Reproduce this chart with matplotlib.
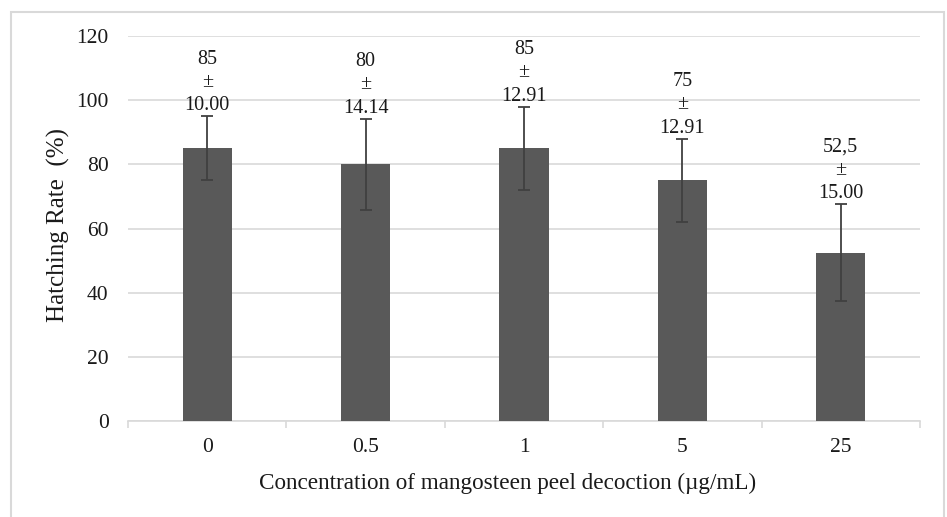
import matplotlib
matplotlib.use("Agg")
import matplotlib.pyplot as plt
from matplotlib.patches import Rectangle
import numpy as np

plt.rcParams["font.family"] = ["Liberation Serif", "DejaVu Serif"]

# data
concentrations = ["0", "0.5", "1", "5", "25"]
hatching_rate = [85, 80, 85, 75, 52.5]
std_dev = [10.00, 14.14, 12.91, 12.91, 15.00]
value_labels = ["85", "80", "85", "75", "52,5"]

fig = plt.figure(figsize=(9.47, 5.17), dpi=100)
ax = fig.add_axes([128 / 947, 1 - 421 / 517, (920 - 128) / 947, (421 - 36) / 517])

x = np.arange(len(concentrations))
ax.bar(x, hatching_rate, width=0.31, color="#595959", zorder=3)
ax.errorbar(x, hatching_rate, yerr=std_dev, fmt="none", ecolor="#404040",
            elinewidth=1.3, capsize=4, capthick=1.3, zorder=4)

for xi, v, s, lab in zip(x, hatching_rate, std_dev, value_labels):
    ax.text(xi, v + s + 0.4, f"{lab}\n±\n{s:.2f}", ha="center", va="bottom",
            fontsize=14.5, color="#1a1a1a", linespacing=1.3, zorder=5)

ax.set_xlim(-0.5, len(concentrations) - 0.5)
ax.set_ylim(0, 120)
ax.set_yticks(np.arange(0, 121, 20))
ax.set_xticks(x)
ax.set_xticklabels(concentrations)
ax.set_xticks(np.arange(-0.5, len(concentrations), 1), minor=True)
ax.tick_params(axis="x", which="major", length=0, labelsize=15.5, pad=12, labelcolor="#1a1a1a")
ax.tick_params(axis="x", which="minor", length=5, color="#d9d9d9", width=1.2)
ax.tick_params(axis="y", length=0, labelsize=15.5, pad=14, labelcolor="#1a1a1a")

ax.grid(axis="y", color="#d9d9d9", linewidth=1.2, zorder=0)
for side in ["top", "right", "left"]:
    ax.spines[side].set_visible(False)
ax.spines["bottom"].set_color("#d9d9d9")
ax.spines["bottom"].set_linewidth(1.2)

ax.set_xlabel("Concentration of mangosteen peel decoction (µg/mL)", fontsize=16.7,
              color="#1a1a1a")
ax.xaxis.set_label_coords(0.479, -0.135)
ax.set_ylabel("Hatching Rate  (%)", fontsize=18, color="#1a1a1a")
ax.yaxis.set_label_coords(-0.073, 0.51)

fig.patches.append(Rectangle((11 / 947, -0.05), (944 - 11) / 947, 1.05 - 12 / 517,
                             transform=fig.transFigure, fill=False,
                             edgecolor="#d9d9d9", linewidth=1.5))

fig.savefig("out.png", dpi=100)
